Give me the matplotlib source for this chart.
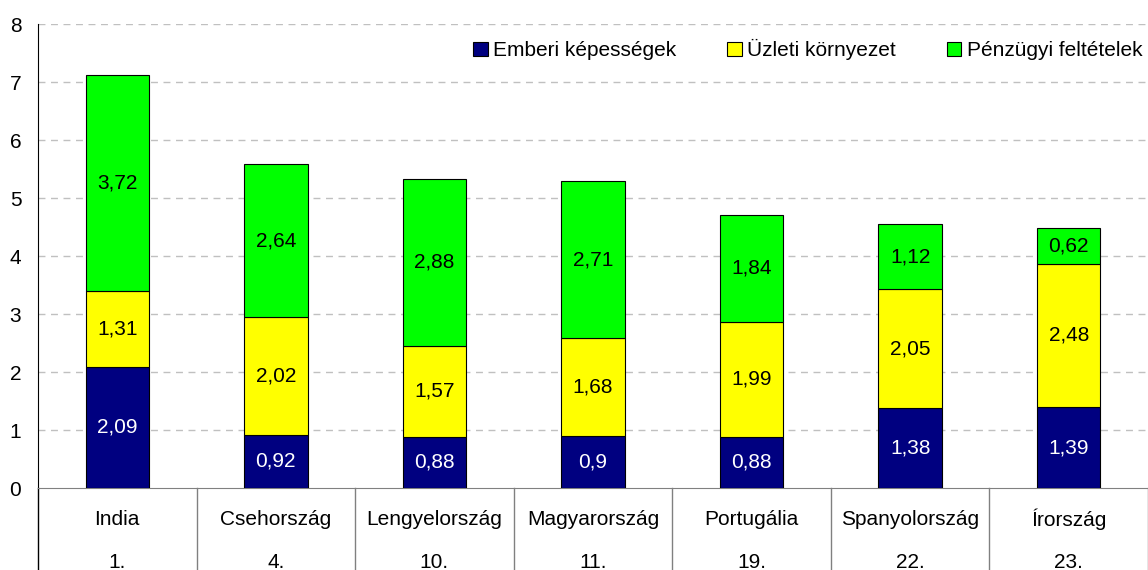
import matplotlib
matplotlib.use("Agg")
import matplotlib.pyplot as plt
import numpy as np

plt.rcParams['font.family'] = ['Liberation Sans', 'DejaVu Sans']

countries = ['India', 'Csehország', 'Lengyelország', 'Magyarország',
             'Portugália', 'Spanyolország', 'Írország']
ranks = ['1.', '4.', '10.', '11.', '19.', '22.', '23.']
emberi = [2.09, 0.92, 0.88, 0.9, 0.88, 1.38, 1.39]
uzleti = [1.31, 2.02, 1.57, 1.68, 1.99, 2.05, 2.48]
penzugyi = [3.72, 2.64, 2.88, 2.71, 1.84, 1.12, 0.62]
series_names = ['Emberi képességek', 'Üzleti környezet', 'Pénzügyi feltételek']

fs = 15
fig = plt.figure(figsize=(11.48, 5.70), dpi=100)
ax = fig.add_axes([38 / 1148, 82 / 570, 1 - 38 / 1148, 464 / 570])

x = np.arange(len(countries))
w = 0.4
bottom = np.zeros(len(countries))
colors = ['#000080', '#FFFF00', '#00FF00']
txtcol = ['white', 'black', 'black']
for vals, name, c, tc in zip([emberi, uzleti, penzugyi], series_names, colors, txtcol):
    vals = np.array(vals)
    ax.bar(x, vals, w, bottom=bottom, color=c, edgecolor='black',
           linewidth=0.8, label=name, zorder=3)
    for xi, b, v in zip(x, bottom, vals):
        ax.text(xi, b + v / 2, f'{v:g}'.replace('.', ','), ha='center',
                va='center', color=tc, fontsize=fs, zorder=4)
    bottom = bottom + vals

ax.set_xlim(-0.5, len(countries) - 0.5)
ax.set_ylim(0, 8)
ax.set_yticks(range(0, 9))
ax.tick_params(axis='y', length=0, labelsize=fs, pad=12)
ax.set_xticks([])
for y in range(1, 9):
    ax.axhline(y, color='#c0c0c0', linestyle=(0, (5, 4)), linewidth=1, zorder=1)

for s in ['top', 'right']:
    ax.spines[s].set_visible(False)
ax.spines['left'].set_color('black')
ax.spines['bottom'].set_color('#808080')

# category separators below the axis
tr = ax.get_xaxis_transform()
for sx in np.arange(-0.5, len(countries), 1.0):
    ax.plot([sx, sx], [0, -0.2], transform=tr, color='#808080' if sx > -0.5 else 'black',
            linewidth=1, clip_on=False)
for xi, c, r in zip(x, countries, ranks):
    ax.text(xi, -0.067, c, transform=tr, ha='center', va='center', fontsize=fs)
    ax.text(xi, -0.16, r, transform=tr, ha='center', va='center', fontsize=fs)

ax.legend(loc='upper right', bbox_to_anchor=(1.006, 0.994), ncol=3, frameon=False,
          fontsize=fs, handlelength=0.7, handleheight=0.7, handletextpad=0.25,
          columnspacing=2.45, borderaxespad=0.2)

fig.savefig('out.png', dpi=100)
